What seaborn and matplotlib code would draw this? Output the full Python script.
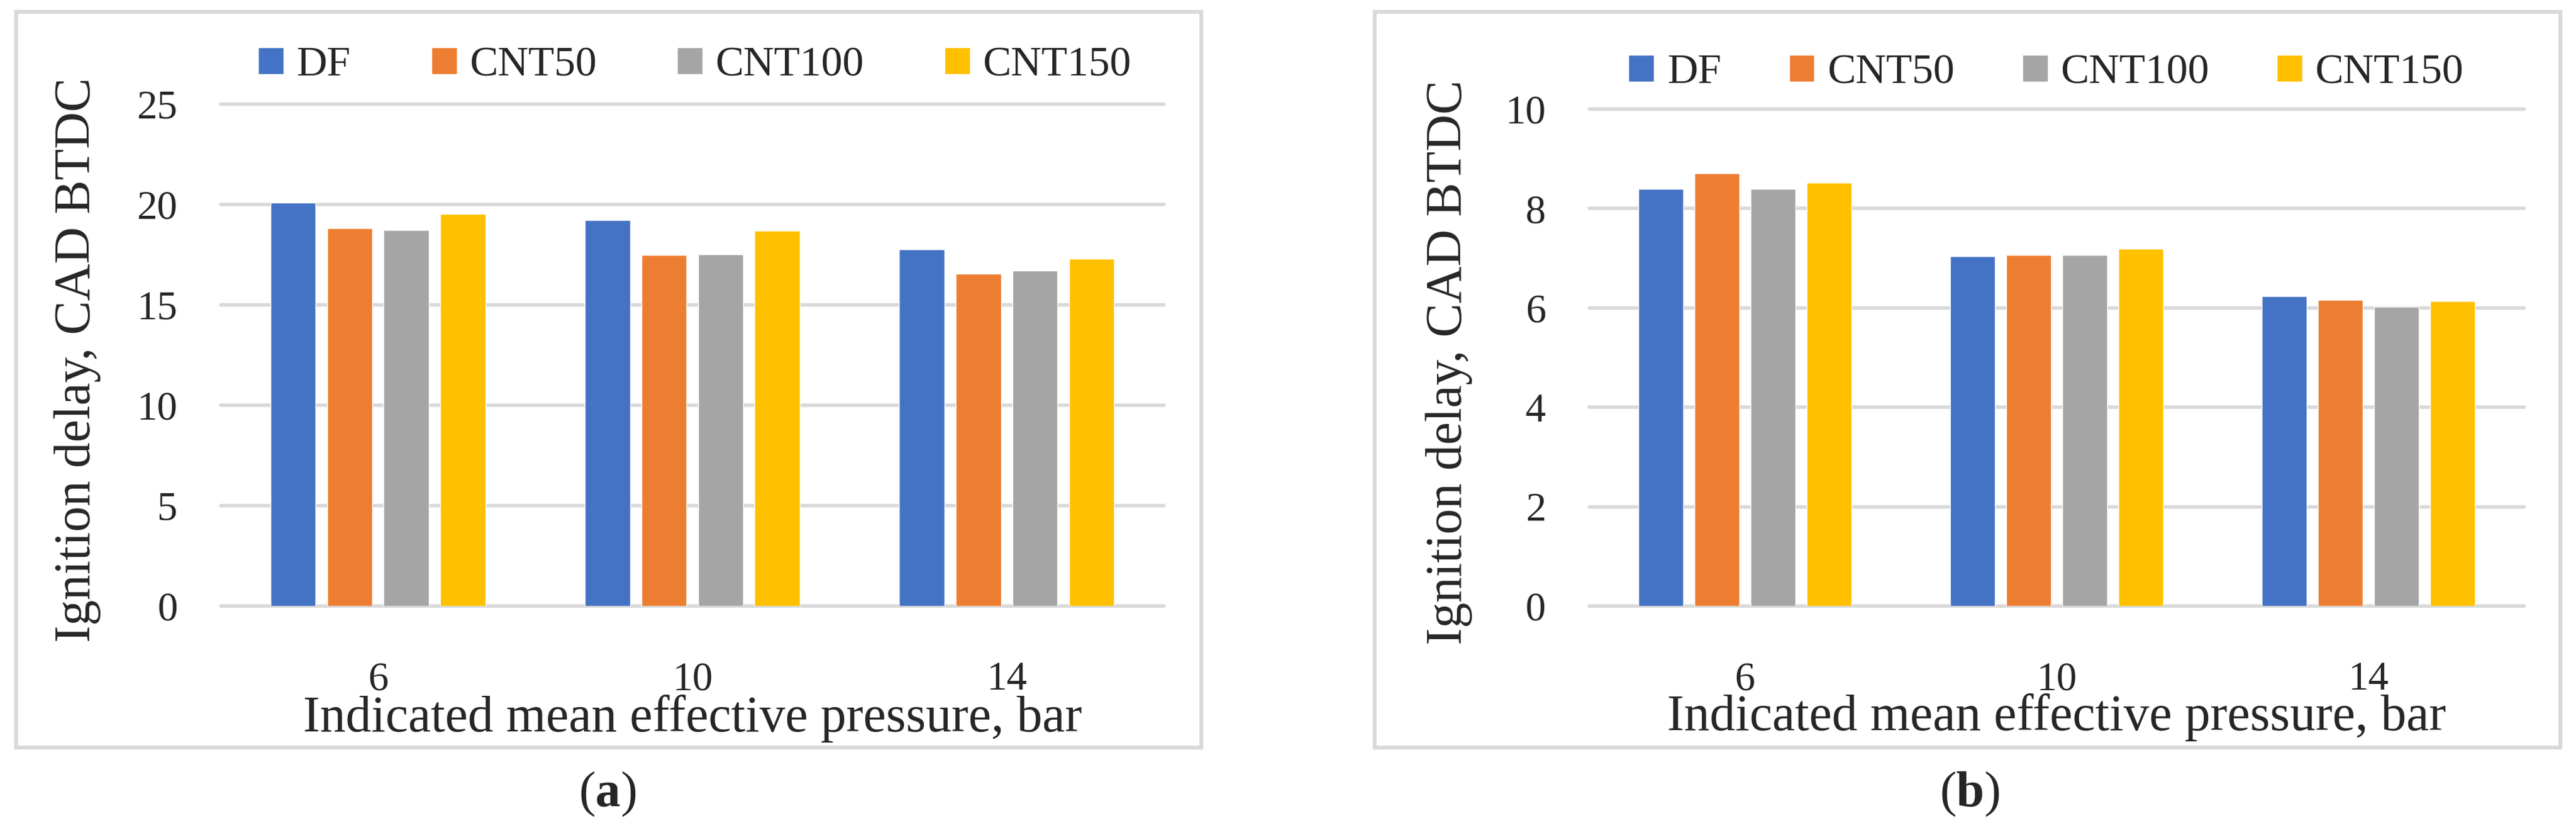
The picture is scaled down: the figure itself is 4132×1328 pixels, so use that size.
import seaborn as sns
import matplotlib.pyplot as plt
import matplotlib.patches as mpatches
import pandas as pd

# data
imep = ["6", "10", "14"]
fuels = ["DF", "CNT50", "CNT100", "CNT150"]
colors = ["#4472C4", "#ED7D31", "#A5A5A5", "#FFC000"]

delay_a = {
    "DF":     [20.08, 19.21, 17.76],
    "CNT50":  [18.82, 17.47, 16.55],
    "CNT100": [18.74, 17.50, 16.71],
    "CNT150": [19.53, 18.68, 17.29],
}
delay_b = {
    "DF":     [8.40, 7.04, 6.23],
    "CNT50":  [8.71, 7.07, 6.16],
    "CNT100": [8.40, 7.07, 6.02],
    "CNT150": [8.52, 7.19, 6.13],
}

xlabel = "Indicated mean effective pressure, bar"
ylabel = "Ignition delay, CAD BTDC"


def to_long(d):
    rows = []
    for f in fuels:
        for p, v in zip(imep, d[f]):
            rows.append({"imep": p, "fuel": f, "delay": v})
    return pd.DataFrame(rows)


sns.set_style("white")
plt.rcParams['font.family'] = ['Liberation Serif', 'DejaVu Serif']
plt.rcParams['mathtext.fontset'] = 'custom'
plt.rcParams['mathtext.rm'] = 'Liberation Serif'
plt.rcParams['mathtext.bf'] = 'Liberation Serif:bold'

fig = plt.figure(figsize=(41.32, 13.28), dpi=100)

grid_c = "#D9D9D9"

def panel(rect, d, ymax, ystep, frame, legend_x, legend_y, colspace,
          tag, tag_x, ylab_x):
    ax = fig.add_axes(rect)
    sns.barplot(data=to_long(d), x="imep", y="delay", hue="fuel",
                order=imep, hue_order=fuels, palette=colors, saturation=1,
                width=0.72, gap=0.2, errorbar=None, ax=ax)
    ax.set_ylim(0, ymax)
    ax.set_xlim(-0.5, 2.5)
    ax.set_yticks(range(0, ymax + 1, ystep))
    ax.yaxis.grid(True, color=grid_c, lw=4)
    for gl in ax.get_ygridlines():
        gl.set_clip_on(False)
    ax.set_axisbelow(True)
    sns.despine(ax=ax, left=True, bottom=True)
    ax.tick_params(axis="both", length=0, labelsize=47)
    ax.tick_params(axis="y", pad=50)
    ax.tick_params(axis="x", pad=64)
    ax.set_xlabel(xlabel, fontsize=59)
    ax.set_ylabel(ylabel, fontsize=59)
    ax.xaxis.set_label_coords(0.5, -0.176)
    ax.yaxis.set_label_coords(ylab_x, 0.49)
    ax.legend(loc="center", bbox_to_anchor=(legend_x, legend_y),
              bbox_transform=fig.transFigure, ncol=4, frameon=False,
              fontsize=49, handlelength=0.6, handleheight=0.6,
              handletextpad=0.3, columnspacing=colspace)
    fig.patches.append(mpatches.Rectangle(frame[:2], frame[2], frame[3],
                                          transform=fig.transFigure,
                                          fill=False, ec=grid_c, lw=4.5))
    fig.text(tag_x, 0.041, r"($\mathbf{%s}$)" % tag, ha="center",
             va="center", fontsize=58)
    return ax


panel([0.0857, 0.2681, 0.3661, 0.6062], delay_a, 25, 5,
      (0.0063, 0.0971, 0.4601, 0.8886), 0.2697, 0.921, 1.9,
      "a", 0.2357, -0.127)
panel([0.6169, 0.2681, 0.3630, 0.6001], delay_b, 10, 2,
      (0.5336, 0.0971, 0.4603, 0.8886), 0.7943, 0.912, 1.6,
      "b", 0.7645, -0.125)

fig.savefig("out.png", dpi=100)
